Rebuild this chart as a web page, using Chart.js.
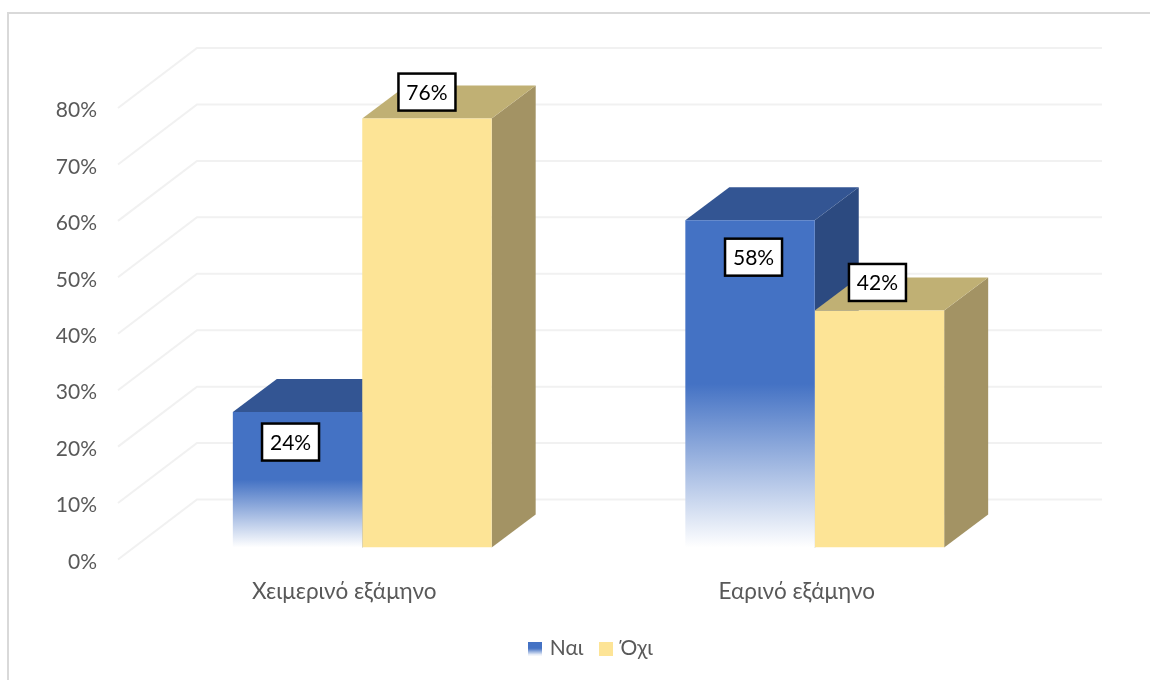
<!DOCTYPE html>
<html><head><meta charset="utf-8">
<style>html,body{margin:0;padding:0;background:#fff}canvas{display:block}</style>
<script src="https://cdn.jsdelivr.net/npm/chart.js@4"></script>
</head><body><canvas id="c" width="1150" height="680"></canvas>
<script>
const categories = ['Χειμερινό εξάμηνο', 'Εαρινό εξάμηνο'];
const seriesNames = ['Ναι', 'Όχι'];
const yesValues = [24, 58];
const noValues = [76, 42];
const FONT = 'Lato, "Open Sans", "Noto Sans", sans-serif';
const BLUE='#4472c4', YEL='#fde496';
const faces=[{top:'#335593',side:'#2c4a80'},{top:'#c0b074',side:'#a39364'}];
const labelShift=[[[-7,30],[3.5,37]],[[0,-26.5],[-2,-28]]];

const sw=document.createElement('canvas');sw.width=14;sw.height=14;
{const x=sw.getContext('2d');const g=x.createLinearGradient(0,14,0,0);g.addColorStop(0,'#fff');g.addColorStop(.5,BLUE);x.fillStyle=g;x.fillRect(0,0,14,14);}
const sw2=document.createElement('canvas');sw2.width=14;sw2.height=14;
{const x=sw2.getContext('2d');x.fillStyle=YEL;x.fillRect(0,0,14,14);}

function blueFill(c){
  if(c.type!=='data'||!c.chart.scales.y) return BLUE;
  const s=c.chart.scales.y, b=s.getPixelForValue(0), t=s.getPixelForValue(c.raw);
  const g=c.chart.ctx.createLinearGradient(0,b,0,t);
  g.addColorStop(0,'#ffffff');g.addColorStop(.5,BLUE);g.addColorStop(1,BLUE);
  return g;
}
function poly(ctx,pts,col){ctx.fillStyle=col;ctx.beginPath();pts.forEach((p,i)=>i?ctx.lineTo(p[0],p[1]):ctx.moveTo(p[0],p[1]));ctx.closePath();ctx.fill();}

const scene={id:'scene',
  afterLayout(ch){ch.legend.left+=3.5;ch.legend.right+=3.5;},
  beforeDraw(ch){const x=ch.ctx;x.save();x.fillStyle='#fff';x.fillRect(0,0,1150,680);x.strokeStyle='#d9d9d9';x.lineWidth=2;x.beginPath();x.moveTo(8,680);x.lineTo(8,13);x.lineTo(1150,13);x.stroke();x.restore();},
  beforeDatasetsDraw(ch){
    const x=ch.ctx,s=ch.scales.y,a=ch.chartArea;x.save();
    x.strokeStyle='#f1f1f1';x.lineWidth=2;
    s.ticks.forEach(t=>{const y=s.getPixelForValue(t.value);x.beginPath();x.moveTo(a.left-18,y+12);x.lineTo(a.left+61,y-48);x.lineTo(a.right+61,y-48);x.stroke();});
    ch.data.datasets.forEach((d,i)=>{ch.getDatasetMeta(i).data.forEach(b=>{
      const l=b.x-b.width/2,r=b.x+b.width/2,t=b.y,bt=b.base,dx=44,dy=33;
      poly(x,[[r,t],[r+dx,t-dy],[r+dx,bt-dy],[r,bt]],faces[i].side);
      poly(x,[[l,t],[r,t],[r+dx,t-dy],[l+dx,t-dy]],faces[i].top);
    });});
    x.restore();
  },
  afterDatasetsDraw(ch){
    const x=ch.ctx;x.save();x.font='21px '+FONT;x.textAlign='center';x.textBaseline='middle';
    ch.data.datasets.forEach((d,i)=>{ch.getDatasetMeta(i).data.forEach((b,j)=>{
      const cx=b.x+labelShift[i][j][0],cy=b.y+labelShift[i][j][1];
      x.fillStyle='#fff';x.fillRect(cx-28.5,cy-18.5,57,37);
      x.strokeStyle='#000';x.lineWidth=2.5;x.strokeRect(cx-28.5,cy-18.5,57,37);
      x.fillStyle='#000';x.fillText(d.data[j]+'%',cx,cy+1);
    });});
    x.restore();
  }
};

new Chart(document.getElementById('c'),{type:'bar',
  data:{labels:categories,datasets:[
    {label:seriesNames[0],data:yesValues,backgroundColor:blueFill,borderWidth:0},
    {label:seriesNames[1],data:noValues,backgroundColor:YEL,borderWidth:0}]},
  plugins:[scene],
  options:{responsive:false,animation:false,
    layout:{padding:{top:96,right:109,bottom:11,left:0}},
    datasets:{bar:{barPercentage:1,categoryPercentage:0.572}},
    scales:{
      x:{afterFit(s){s.height=72;},grid:{display:false},border:{display:false},ticks:{color:'#595959',font:{family:FONT,size:22.5},padding:23,labelOffset:-18,maxRotation:0}},
      y:{min:0,max:80,afterFit(s){s.width=136;},grid:{display:false},border:{display:false},
        ticks:{stepSize:10,color:'#595959',font:{family:FONT,size:21},labelOffset:14.5,padding:31,callback:v=>v+'%'}}
    },
    plugins:{tooltip:{enabled:false},
      legend:{position:'bottom',fullSize:false,labels:{color:'#595959',font:{family:FONT,size:21},boxWidth:8,boxHeight:14,usePointStyle:true,padding:18.5,
        generateLabels(){return seriesNames.map((n,i)=>({text:n,pointStyle:i?sw2:sw,datasetIndex:i,fontColor:'#595959',lineWidth:0,strokeStyle:'transparent'}));}}}
    }
  }
});
</script></body></html>
